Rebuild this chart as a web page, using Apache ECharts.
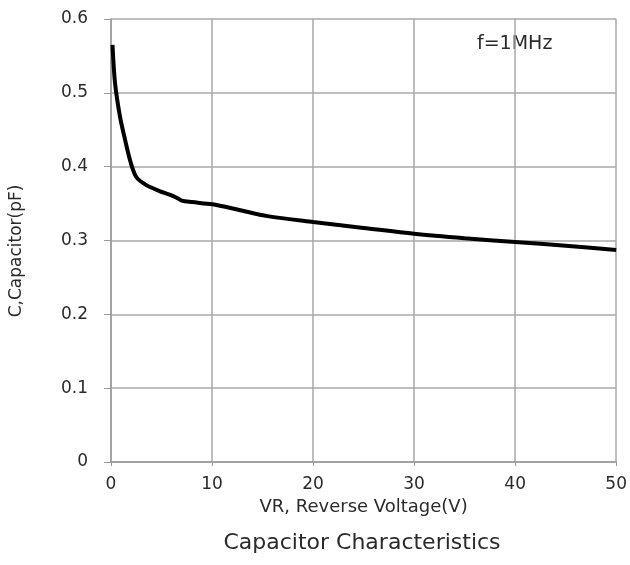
<!DOCTYPE html>
<html><head><meta charset="utf-8">
<script src="https://cdn.jsdelivr.net/npm/echarts@6/dist/echarts.min.js"></script>
<style>html,body{margin:0;padding:0;background:#fff}#c{width:630px;height:565px}</style>
</head><body><div id="c"></div>
<script>
const voltage = [0.15, 0.4, 0.9, 1.4, 1.9, 2.5, 3.5, 4.8, 5.8, 6.5, 7.0, 8.0, 10.0, 12.5, 15.5, 20, 25, 30, 35, 40, 45, 50];
const capacitance = [0.565, 0.513, 0.467, 0.436, 0.408, 0.386, 0.375, 0.367, 0.362, 0.358, 0.354, 0.352, 0.349, 0.342, 0.333, 0.325, 0.317, 0.309, 0.303, 0.298, 0.293, 0.287];
const xTicks = [0, 10, 20, 30, 40, 50];
const yTicks = [0, 0.1, 0.2, 0.3, 0.4, 0.5, 0.6];
const titleText = 'Capacitor Characteristics';
const xName = 'VR, Reverse Voltage(V)';
const yName = 'C,Capacitor(pF)';
const note = 'f=1MHz';

const chart = echarts.init(document.getElementById('c'));
const font = 'DejaVu Sans';
const txt = '#2a2a2a';
chart.setOption({
  animation: false,
  backgroundColor: '#fff',
  title: {text: titleText, left: 357, textAlign: 'center', top: 527,
    textStyle: {fontFamily: font, fontSize: 22, fontWeight: 'normal', color: txt}},
  grid: {left: 111, right: 13, top: 19, bottom: 103},
  xAxis: {type: 'value', min: xTicks[0], max: xTicks[xTicks.length - 1], interval: 10,
    name: xName, nameLocation: 'middle', nameGap: 35,
    nameTextStyle: {fontFamily: font, fontSize: 18, color: txt},
    axisLine: {show: true, lineStyle: {color: '#9a9a9a', width: 1.5}},
    axisTick: {show: true, length: 4, lineStyle: {color: '#9a9a9a'}},
    axisLabel: {fontFamily: font, fontSize: 17, color: txt, margin: 14},
    splitLine: {show: true, lineStyle: {color: '#a8a8a8', width: 1.5}}},
  yAxis: {type: 'value', min: yTicks[0], max: yTicks[yTicks.length - 1], interval: 0.1,
    name: yName, nameLocation: 'middle', nameGap: 86, nameRotate: 90,
    nameTextStyle: {fontFamily: font, fontSize: 17, color: txt, padding: [0, 21, 0, 0]},
    axisLine: {show: true, lineStyle: {color: '#9a9a9a', width: 1.5}},
    axisTick: {show: true, length: 7, lineStyle: {color: '#9a9a9a'}},
    axisLabel: {fontFamily: font, fontSize: 17, color: txt, margin: 23,
      formatter: v => (Math.round(v * 10) / 10).toString()},
    splitLine: {show: true, lineStyle: {color: '#a8a8a8', width: 1.5}}},
  graphic: [{type: 'text', left: 477, top: 35,
    style: {text: note, fontFamily: font, fontSize: 19, fill: txt}}],
  series: [{type: 'line', data: voltage.map((v, i) => [v, capacitance[i]]),
    smooth: 0.3, showSymbol: false,
    lineStyle: {color: '#000', width: 4}}]
});
</script></body></html>
